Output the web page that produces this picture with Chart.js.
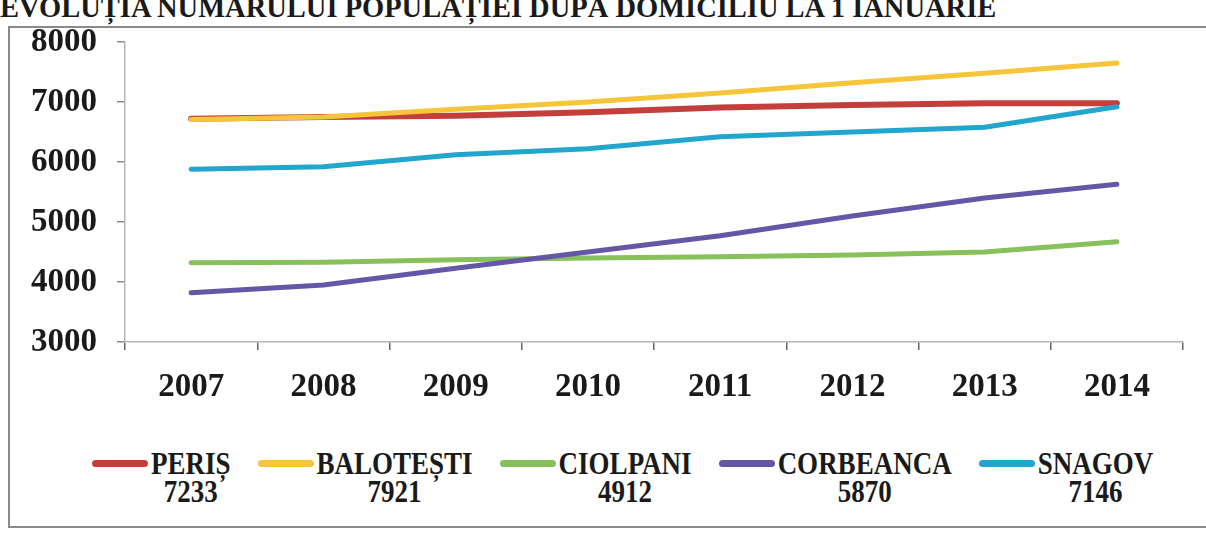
<!DOCTYPE html>
<html>
<head>
<meta charset="utf-8">
<script src="https://cdn.jsdelivr.net/npm/chart.js@4/dist/chart.umd.min.js"></script>
<style>
    html, body { margin: 0; padding: 0; background: #fff; overflow: hidden; }
    body { width: 1206px; height: 539px; position: relative; font-family: "Liberation Serif", serif; color: #1a1a1a; }
    #title { position: absolute; left: 0; top: -6px; font-size: 28.5px; line-height: 28px; font-weight: bold; white-space: nowrap; }
    #frame { position: absolute; left: 8px; top: 26px; width: 1400px; height: 498px; border-left: 2px solid #8a8a8a; border-top: 2px solid #8a8a8a; border-bottom: 2px solid #8a8a8a; }
    #chart-box { position: absolute; left: 0; top: 0; width: 1206px; height: 425px; }
    #legend { position: absolute; left: 92px; top: 450px; display: flex; gap: 27px; }
    .item { display: flex; align-items: flex-start; }
    .swatch { width: 56px; height: 7px; border-radius: 4px; margin-top: 10px; margin-right: 3px; }
    .label { font-size: 27px; line-height: 23px; font-weight: bold; text-align: center; transform: scaleY(1.2); transform-origin: center top; }
</style>
</head>
<body>
<div id="title">EVOLUȚIA NUMĂRULUI POPULAȚIEI DUPĂ DOMICILIU LA 1 IANUARIE</div>
<div id="frame"></div>
<div id="chart-box"><canvas id="population-chart"></canvas></div>
<div id="legend"></div>
<script>
const years = ['2007', '2008', '2009', '2010', '2011', '2012', '2013', '2014'];
const yTicks = [3000, 4000, 5000, 6000, 7000, 8000];

const peris = [6720, 6750, 6770, 6830, 6910, 6950, 6980, 6980];
const balotesti = [6710, 6750, 6880, 7000, 7150, 7320, 7480, 7650];
const ciolpani = [4320, 4330, 4370, 4400, 4420, 4450, 4500, 4670];
const corbeanca = [3820, 3950, 4230, 4500, 4770, 5100, 5400, 5630];
const snagov = [5880, 5920, 6120, 6220, 6420, 6500, 6580, 6920];

const seriesNames = ['PERIȘ', 'BALOTEȘTI', 'CIOLPANI', 'CORBEANCA', 'SNAGOV'];
const legendTotals = ['7233', '7921', '4912', '5870', '7146'];
const seriesValues = [peris, balotesti, ciolpani, corbeanca, snagov];

const seriesColors = ['#c23f3c', '#f6c53a', '#88c05c', '#6657a6', '#22a6cd'];

const tickFont = { family: 'Liberation Serif', size: 33, weight: 'bold' };

const datasets = seriesNames.map((name, i) => ({
    label: name,
    data: seriesValues[i],
    borderColor: seriesColors[i],
    backgroundColor: seriesColors[i],
    borderWidth: i === 0 ? 6 : 5,
    borderCapStyle: 'round',
    borderJoinStyle: 'round',
    pointRadius: 0,
    tension: 0,
    fill: false,
    order: seriesNames.length - i
}));

new Chart(document.getElementById('population-chart'), {
    type: 'line',
    data: { labels: years, datasets: datasets },
    options: {
        responsive: true,
        maintainAspectRatio: false,
        animation: false,
        layout: { padding: { top: 42, right: 23, left: 0, bottom: 0 } },
        plugins: {
            legend: { display: false },
            tooltip: { enabled: false }
        },
        scales: {
            x: {
                offset: true,
                grid: { offset: true, drawOnChartArea: false, drawTicks: true, tickLength: 8, color: '#666', lineWidth: 1.5 },
                border: { color: '#b5b5b5', width: 1.5 },
                ticks: { font: tickFont, color: '#1a1a1a', padding: 18, maxRotation: 0 },
                afterFit: scale => { scale.height = 83; }
            },
            y: {
                min: 3000,
                max: 8000,
                afterBuildTicks: scale => { scale.ticks = yTicks.map(v => ({ value: v })); },
                grid: { drawOnChartArea: false, drawTicks: true, tickLength: 8, color: '#888', lineWidth: 1.5 },
                border: { color: '#b5b5b5', width: 1.5 },
                ticks: { font: tickFont, color: '#1a1a1a', padding: 20, callback: value => String(value) },
                afterFit: scale => { scale.width = 125; }
            }
        }
    }
});

const legendBox = document.getElementById('legend');
seriesNames.forEach((name, i) => {
    const item = document.createElement('div');
    item.className = 'item';
    const swatch = document.createElement('div');
    swatch.className = 'swatch';
    swatch.style.background = seriesColors[i];
    const label = document.createElement('div');
    label.className = 'label';
    label.innerHTML = name + '<br>' + legendTotals[i];
    item.appendChild(swatch);
    item.appendChild(label);
    legendBox.appendChild(item);
});
</script>
</body>
</html>
